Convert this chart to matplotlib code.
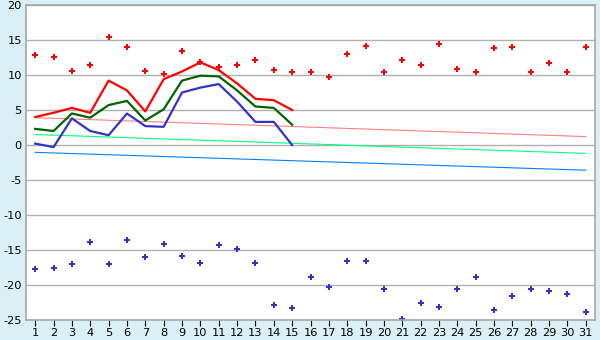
import matplotlib

matplotlib.use("Agg")
import matplotlib.pyplot as plt

plt.rcParams["axes.unicode_minus"] = False

# daily values, days 1..31
days = list(range(1, 32))
t_max = [12.8, 12.6, 10.6, 11.4, 15.4, 14.0, 10.6, 10.2, 13.5, 11.8,
         11.2, 11.4, 12.1, 10.7, 10.4, 10.4, 9.7, 13.0, 14.2, 10.4,
         12.1, 11.4, 14.4, 10.8, 10.4, 13.8, 14.0, 10.5, 11.7, 10.5, 14.0]
t_min = [-17.7, -17.5, -17.0, -13.9, -17.0, -13.6, -16.0, -14.2, -15.8, -16.8,
         -14.3, -14.9, -16.9, -22.8, -23.3, -18.9, -20.3, -16.5, -16.5, -20.5,
         -24.8, -22.5, -23.2, -20.6, -18.8, -23.5, -21.6, -20.6, -20.8, -21.3, -23.8]

# current month lines (days 1..15)
line_days = list(range(1, 16))
cur_max = [4.0, 4.6, 5.3, 4.6, 9.2, 7.8, 4.8, 9.4, 10.5, 11.8, 10.7, 8.8, 6.6, 6.4, 5.0]
cur_mean = [2.3, 2.0, 4.5, 3.9, 5.7, 6.3, 3.5, 5.1, 9.2, 9.9, 9.8, 7.8, 5.5, 5.3, 2.9]
cur_min = [0.2, -0.3, 3.8, 2.0, 1.4, 4.5, 2.7, 2.6, 7.5, 8.2, 8.7, 6.2, 3.3, 3.3, 0.0]

# normals, first and last day
norm_days = [1, 31]
norm_max = [3.9, 1.2]
norm_mean = [1.5, -1.2]
norm_min = [-1.05, -3.6]

yticks = list(range(-25, 21, 5))

fig = plt.figure(figsize=(6, 3.4), dpi=100, facecolor="#daeff6")
ax = fig.add_axes([26 / 600, 1 - 320 / 340, (595 - 26) / 600, (320 - 5) / 340])
ax.set_facecolor("white")

ax.plot(norm_days, norm_max, color="#ff8080", lw=0.8)
ax.plot(norm_days, norm_mean, color="#00ff80", lw=0.8)
ax.plot(norm_days, norm_min, color="#0080ff", lw=0.8)

ax.plot(line_days, cur_max, color="#ff0000", lw=1.6)
ax.plot(line_days, cur_mean, color="#006400", lw=1.6)
ax.plot(line_days, cur_min, color="#3333cc", lw=1.6)

ax.plot(days, t_max, ls="none", marker="P", ms=4.8, color="#ff0000", mew=0)
ax.plot(days, t_min, ls="none", marker="P", ms=4.8, color="#3333cc", mew=0)

ax.set_xlim(0.5, 31.5)
ax.set_ylim(-25, 20)
ax.set_xticks(days)
ax.set_yticks(yticks, [str(v) for v in yticks])
ax.grid(axis="y", color="#b0b0b0", lw=1)
ax.set_axisbelow(True)
for s in ax.spines.values():
    s.set_color("#a8a8a8")
    s.set_linewidth(1.2)
ax.tick_params(axis="x", length=4, width=0.8, color="black", labelsize=8.2, pad=2)
ax.tick_params(axis="y", length=0, labelsize=8.2, pad=3)

fig.savefig("out.png", dpi=100, facecolor=fig.get_facecolor())
